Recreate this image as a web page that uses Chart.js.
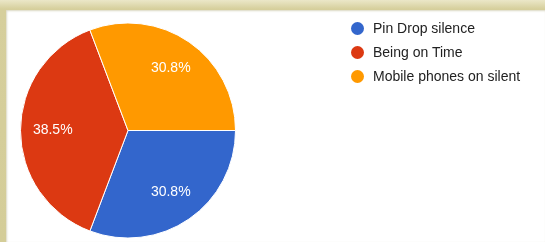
<!DOCTYPE html>
<html>
<head>
<meta charset="utf-8">
<script src="https://cdn.jsdelivr.net/npm/chart.js@4/dist/chart.umd.min.js"></script>
<style>
    html, body {
        margin: 0;
        padding: 0;
        width: 545px;
        height: 242px;
        overflow: hidden;
    }
    body {
        position: relative;
        background: linear-gradient(to bottom, #ebe7c8 0px, #d6cf9c 9px, #d4cd98 100%);
    }
    .panel {
        position: absolute;
        left: 6px;
        top: 10px;
        right: 0;
        bottom: 0;
        background: #ffffff;
        box-shadow: inset 1px 1px 2px rgba(150, 140, 80, 0.35);
    }
    #pie-chart {
        position: absolute;
        left: 0;
        top: 0;
    }
    .legend {
        position: absolute;
        left: 351px;
        top: 19px;
        font-family: 'Liberation Sans', Arial, sans-serif;
        font-size: 14px;
        color: #222222;
    }
    .legend-item {
        height: 24px;
        line-height: 18px;
        white-space: nowrap;
    }
    .legend-dot {
        display: inline-block;
        width: 13px;
        height: 13px;
        border-radius: 50%;
        vertical-align: -2px;
        margin-right: 9px;
    }
</style>
</head>
<body>
<div class="panel"></div>
<canvas id="pie-chart" width="545" height="242"></canvas>
<div class="legend" id="legend"></div>
<script>
// Survey answers (13 responses)
const categories = ['Pin Drop silence', 'Being on Time', 'Mobile phones on silent'];
const responses = [4, 5, 4];
const sliceColors = ['#3366cc', '#dc3912', '#ff9900'];

// Draws the percentage inside each slice, Google-chart style
const sliceLabels = {
    id: 'sliceLabels',
    afterDatasetsDraw(chart) {
        const { ctx } = chart;
        const meta = chart.getDatasetMeta(0);
        const total = responses.reduce((a, b) => a + b, 0);
        ctx.save();
        ctx.fillStyle = '#ffffff';
        ctx.font = '14px "Liberation Sans", Arial, sans-serif';
        ctx.textAlign = 'center';
        ctx.textBaseline = 'middle';
        meta.data.forEach((arc, i) => {
            const mid = (arc.startAngle + arc.endAngle) / 2;
            const r = arc.outerRadius * 0.7;
            const x = arc.x + Math.cos(mid) * r;
            const y = arc.y + Math.sin(mid) * r;
            const pct = (responses[i] / total * 100).toFixed(1) + '%';
            ctx.fillText(pct, x, y);
        });
        ctx.restore();
    }
};

const ctx = document.getElementById('pie-chart');
const pieChart = new Chart(ctx, {
    type: 'pie',
    data: {
        labels: categories,
        datasets: [{
            data: responses,
            backgroundColor: sliceColors,
            borderColor: '#ffffff',
            borderWidth: 1
        }]
    },
    options: {
        responsive: false,
        animation: false,
        rotation: 90,
        layout: {
            padding: { left: 20, top: 22, right: 309, bottom: 3 }
        },
        plugins: {
            legend: { display: false },
            tooltip: { enabled: false }
        }
    },
    plugins: [sliceLabels]
});

// HTML legend built from the chart's own legend items
const legendEl = document.getElementById('legend');
pieChart.options.plugins.legend.labels.generateLabels(pieChart).forEach(item => {
    const row = document.createElement('div');
    row.className = 'legend-item';
    const dot = document.createElement('span');
    dot.className = 'legend-dot';
    dot.style.background = item.fillStyle;
    row.appendChild(dot);
    row.appendChild(document.createTextNode(item.text));
    legendEl.appendChild(row);
});
</script>
</body>
</html>
